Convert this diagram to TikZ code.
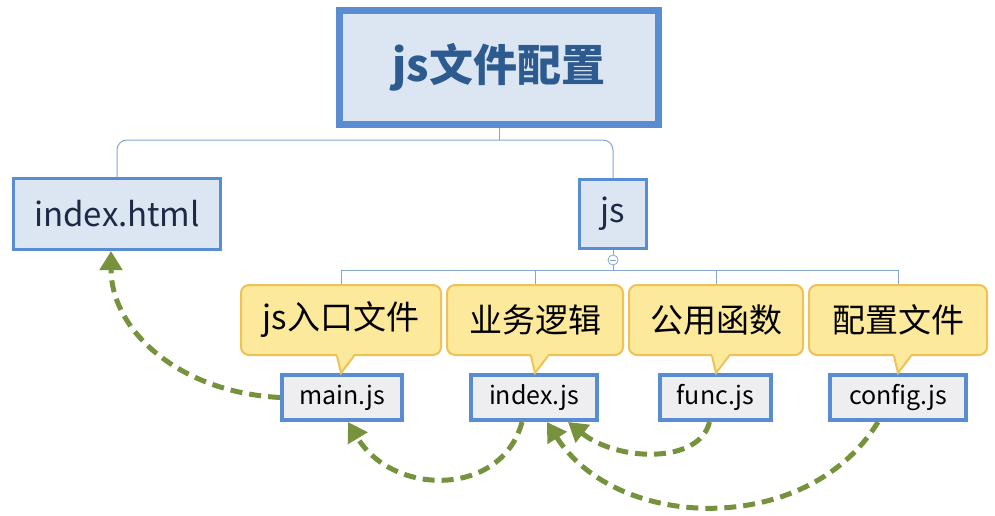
\documentclass[tikz,border=0pt]{standalone}
\usepackage{fontspec}
\setmainfont{Noto Sans CJK SC}
\usetikzlibrary{arrows.meta}

\definecolor{boxblue}{HTML}{5A8CD2}
\definecolor{paleblue}{HTML}{DCE6F2}
\definecolor{titleblue}{HTML}{2D5B8F}
\definecolor{navy}{HTML}{1C2A45}
\definecolor{filegray}{HTML}{EEEEF0}
\definecolor{noteyellow}{HTML}{FCE99C}
\definecolor{notegold}{HTML}{F0C255}
\definecolor{linkblue}{HTML}{86A6D2}
\definecolor{refgreen}{HTML}{76923C}

\begin{document}
\begin{tikzpicture}[x=1pt, y=-1pt,
    topic/.style={draw=boxblue, fill=paleblue, line width=3pt, inner sep=0pt,
        text=navy, font=\fontsize{33}{36}\selectfont},
    note/.style={draw=notegold, fill=noteyellow, line width=2pt, rounded corners=8pt,
        minimum height=70pt, inner sep=0pt, font=\fontsize{33}{38}\selectfont},
    file/.style={draw=boxblue, fill=filegray, line width=4pt, minimum height=45pt,
        inner sep=0pt, font=\fontsize{25}{28}\selectfont},
    link/.style={draw=linkblue, line width=1pt},
    ref/.style={draw=refgreen, line width=5pt, dash pattern=on 12pt off 7pt,
        -{Triangle[length=19pt,width=22pt]}}]
    \useasboundingbox (0,0) rectangle (995,516);

    % Title and first level
    \node[topic, line width=7pt, minimum width=319pt, minimum height=114pt,
        text=titleblue, font=\fontsize{44}{50}\selectfont\bfseries] (root) at (499,67.5) {js文件配置};
    \node[topic, minimum width=207pt, minimum height=71pt] (html) at (117,214) {index.html};
    \node[topic, minimum width=67pt, minimum height=69pt] (jsdir) at (613,214) {js};

    \draw[link] (root.south) -- ++(0,12) coordinate (split);
    \draw[link, rounded corners=10pt] (html.north) |- (split) -| (jsdir.north);

    % Fold mark under js
    \node[circle, draw=linkblue, fill=white, line width=0.8pt, minimum size=10pt,
        inner sep=0pt] (fold) at (613,260) {};
    \draw[linkblue, line width=0.8pt] ([xshift=-3pt]fold.center) -- ([xshift=3pt]fold.center);
    \draw[link] (jsdir.south) -- (fold.north);
    \draw[link] (fold.south) -- ++(0,5) coordinate (bus);

    % Notes and files
    \node[note, minimum width=200pt] (entrynote) at (341,320) {js入口文件};
    \node[note, minimum width=176pt] (logicnote) at (535,320) {业务逻辑};
    \node[note, minimum width=174pt] (funcnote) at (716,320) {公用函数};
    \node[note, minimum width=178pt] (confnote) at (898,320) {配置文件};

    \node[file, minimum width=120pt] (mainjs) at (342,397.5) {main.js};
    \node[file, minimum width=126pt] (indexjs) at (534,397.5) {index.js};
    \node[file, minimum width=111pt] (funcjs) at (715.5,397.5) {func.js};
    \node[file, minimum width=136pt] (configjs) at (898,397.5) {config.js};

    \draw[link] (entrynote.north) |- (bus) -| (confnote.north);
    \foreach \n in {logicnote, funcnote} {
        \draw[link] (\n.north) -- (\n.north |- bus);
    }

    % Callout pointers
    \foreach \n/\f in {entrynote/mainjs, logicnote/indexjs, funcnote/funcjs, confnote/configjs} {
        \fill[noteyellow] ([xshift=-4pt, yshift=2pt]\n.south) -- (\n.south |- \f.north)
            -- ([xshift=13pt, yshift=2pt]\n.south) -- cycle;
        \draw[notegold, line width=2pt] ([xshift=-4pt]\n.south) -- (\n.south |- \f.north)
            -- ([xshift=13pt]\n.south);
    }

    % References
    \draw[ref] (mainjs.west) .. controls +(-100,-5) and +(0,80) .. ([xshift=-6pt]html.south);
    \draw[ref] ([xshift=-12pt]indexjs.south) .. controls +(-20,75) and +(45,75) .. ([xshift=6pt]mainjs.south);
    \draw[ref] ([xshift=-6pt]funcjs.south) .. controls +(-10,42) and +(50,40) .. ([xshift=34pt]indexjs.south);
    \draw[ref] ([xshift=-20pt]configjs.south) .. controls +(-70,115) and +(70,110) .. ([xshift=13pt]indexjs.south);
\end{tikzpicture}
\end{document}
